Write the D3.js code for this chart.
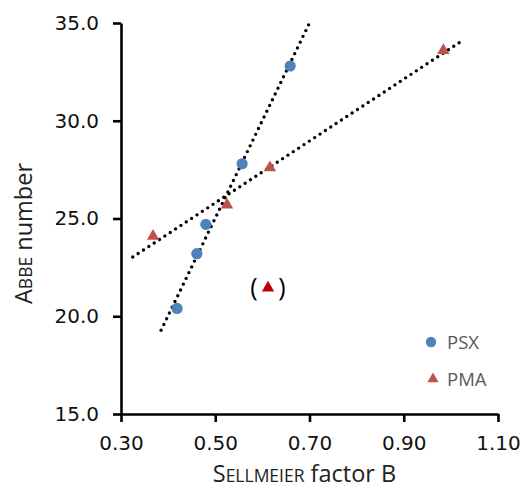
<!DOCTYPE html>
<html>
<head>
<meta charset="utf-8">
<script src="https://cdn.jsdelivr.net/npm/d3@7"></script>
<style>
  body { margin: 0; background: #fff; }
  svg { display: block; }
</style>
</head>
<body>
<div id="chart"></div>
<script>
// Data
const psxX = [0.419, 0.461, 0.480, 0.557, 0.659];
const psxY = [20.4, 23.2, 24.7, 27.8, 32.8];
const pmaX = [0.368, 0.525, 0.616, 0.984];
const pmaY = [24.1, 25.7, 27.6, 33.6];
const outlierPoint = [0.612, 21.5]; // excluded from the PMA fit, shown in brackets
const psxTrendRange = [0.385, 0.703];
const pmaTrendRange = [0.325, 1.024];
const xTicks = [0.30, 0.50, 0.70, 0.90, 1.10];
const yTicks = [15, 20, 25, 30, 35];

function drawChart() {
    const width = 521, height = 490;
    const margin = {top: 23, right: 23, bottom: 76, left: 121};
    const innerWidth = width - margin.left - margin.right;
    const innerHeight = height - margin.top - margin.bottom;

    const svg = d3.select("#chart").append("svg")
        .attr("width", width).attr("height", height);
    const g = svg.append("g").attr("transform", `translate(${margin.left},${margin.top})`);

    const x = d3.scaleLinear().domain([0.30, 1.10]).range([0, innerWidth]);
    const y = d3.scaleLinear().domain([15, 35]).range([innerHeight, 0]);

    const blue = "#4f81bd", red = "#c0504d", darkRed = "#c00000";
    const tickFont = "'DejaVu Sans', sans-serif";

    // least squares fit for the dotted trendlines
    function fit(xs, ys) {
        const mx = d3.mean(xs), my = d3.mean(ys);
        const sxy = d3.sum(xs, (v, i) => (v - mx) * (ys[i] - my));
        const sxx = d3.sum(xs, v => (v - mx) * (v - mx));
        const m = sxy / sxx;
        return v => my + m * (v - mx);
    }

    const line = d3.line().x(d => x(d[0])).y(d => y(d[1]));
    [[psxX, psxY, psxTrendRange], [pmaX, pmaY, pmaTrendRange]].forEach(([xs, ys, range]) => {
        const f = fit(xs, ys);
        g.append("path")
            .datum(range.map(v => [v, f(v)]))
            .attr("fill", "none")
            .attr("stroke", "#000")
            .attr("stroke-width", 3.4)
            .attr("stroke-linecap", "round")
            .attr("stroke-dasharray", "0 6.4")
            .attr("d", line);
    });

    // Markers
    const psxData = psxX.map((v, i) => [v, psxY[i]]);
    const pmaData = pmaX.map((v, i) => [v, pmaY[i]]);
    const tri = d3.symbol().type(d3.symbolTriangle).size(66);

    g.selectAll(".psx").data(psxData).join("circle")
        .attr("cx", d => x(d[0])).attr("cy", d => y(d[1]))
        .attr("r", 5.6).attr("fill", blue);

    g.selectAll(".pma").data(pmaData).join("path")
        .attr("d", tri)
        .attr("transform", d => `translate(${x(d[0])},${y(d[1])})`)
        .attr("fill", red);

    const ox = x(outlierPoint[0]), oy = y(outlierPoint[1]);
    g.append("path").attr("d", tri)
        .attr("transform", `translate(${ox},${oy + 1})`)
        .attr("fill", darkRed);
    [["(", -14], [")", 14]].forEach(([t, dx]) => {
        g.append("text")
            .attr("x", ox + dx).attr("y", oy + 9)
            .attr("text-anchor", "middle")
            .attr("font-family", "'Open Sans', sans-serif")
            .attr("font-size", 25)
            .attr("fill", "#000")
            .text(t);
    });

    // Axes
    const xAxis = g.append("g")
        .attr("transform", `translate(0,${innerHeight})`)
        .call(d3.axisBottom(x).tickValues(xTicks).tickFormat(d3.format(".2f")).tickSize(8).tickSizeOuter(0));
    const yAxis = g.append("g")
        .call(d3.axisLeft(y).tickValues(yTicks).tickFormat(d3.format(".1f")).tickSize(8).tickSizeOuter(0));

    [xAxis, yAxis].forEach(ax => {
        ax.select(".domain").attr("stroke", "#000").attr("stroke-width", 2.6);
        ax.selectAll(".tick line").attr("stroke", "#000").attr("stroke-width", 2.6);
        ax.selectAll(".tick text")
            .attr("font-family", tickFont)
            .attr("font-size", 20)
            .attr("fill", "#111");
    });
    xAxis.selectAll(".tick text").attr("y", 22);
    yAxis.selectAll(".tick text").attr("x", -22);

    // Axis titles with small caps names
    const titleFont = "'Open Sans', sans-serif";
    const xt = svg.append("text")
        .attr("x", margin.left + innerWidth / 2 - 5).attr("y", 482)
        .attr("text-anchor", "middle")
        .attr("font-family", titleFont).attr("font-size", 23.5).attr("fill", "#222");
    xt.append("tspan").text("S");
    xt.append("tspan").attr("font-size", 17.5).text("ELLMEIER");
    xt.append("tspan").text(" factor B");

    const yt = svg.append("text")
        .attr("transform", `translate(32,${margin.top + innerHeight / 2 + 15}) rotate(-90)`)
        .attr("text-anchor", "middle")
        .attr("font-family", titleFont).attr("font-size", 23.5).attr("fill", "#222");
    yt.append("tspan").text("A");
    yt.append("tspan").attr("font-size", 17.5).text("BBE");
    yt.append("tspan").text(" number");

    // Legend
    const legend = svg.append("g").attr("transform", "translate(431,342)");
    legend.append("circle").attr("cx", 0).attr("cy", 0).attr("r", 5.2).attr("fill", blue);
    legend.append("path").attr("d", d3.symbol().type(d3.symbolTriangle).size(54))
        .attr("transform", "translate(2,37)").attr("fill", red);
    [["PSX", 0], ["PMA", 37]].forEach(([t, dy]) => {
        legend.append("text")
            .attr("x", 16).attr("y", dy + 6.5)
            .attr("font-family", titleFont).attr("font-size", 18.5)
            .attr("fill", "#595959")
            .text(t);
    });
}

drawChart();
</script>
</body>
</html>
